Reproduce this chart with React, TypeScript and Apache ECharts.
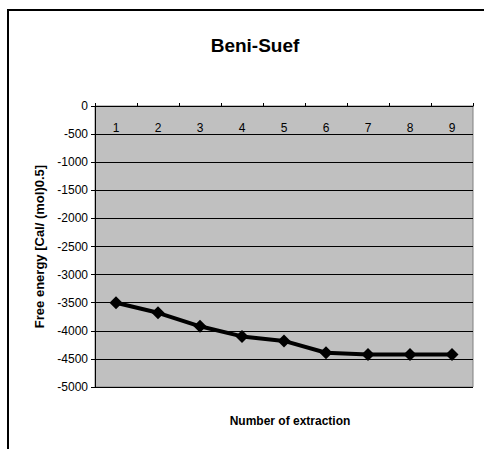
import React, { useEffect, useRef } from "react";
import * as echarts from "echarts";

const categories = ["1", "2", "3", "4", "5", "6", "7", "8", "9"];
const freeEnergy = [-3500, -3680, -3920, -4100, -4180, -4390, -4420, -4420, -4420];
const chartTitle = "Beni-Suef";
const xName = "Number of extraction";
const yName = "Free energy [Cal/ (mol)0.5]";

export default function App() {
  const ref = useRef<HTMLDivElement>(null);
  useEffect(() => {
    document.body.style.margin = "0";
    const chart = echarts.init(ref.current!, null, { renderer: "svg" });
    const font = "Liberation Sans, Arial, sans-serif";
    chart.setOption({
      animation: false,
      backgroundColor: "#ffffff",
      title: [
        {
          text: chartTitle,
          left: 250,
          top: 31,
          textAlign: "center",
          textStyle: { fontFamily: font, fontSize: 19, fontWeight: "bold", color: "#000000" },
        },
        {
          text: xName,
          left: 285,
          top: 410,
          textAlign: "center",
          textStyle: { fontFamily: font, fontSize: 12, fontWeight: "bold", color: "#000000" },
        },
      ],
      graphic: [
        {
          type: "rect",
          shape: { x: 8, y: 10, width: 500, height: 480 },
          style: { fill: "none", stroke: "#000", lineWidth: 2 },
          silent: true,
        },
      ],
      grid: {
        left: 95,
        top: 106,
        width: 378,
        height: 281,
        show: true,
        backgroundColor: "#c0c0c0",
        borderColor: "#808080",
        borderWidth: 1,
      },
      xAxis: {
        type: "category",
        position: "top",
        data: categories,
        boundaryGap: true,
        axisLine: { lineStyle: { color: "#000", width: 1 } },
        axisTick: { show: true, inside: false, length: 3, lineStyle: { color: "#000" } },
        axisLabel: {
          inside: true,
          margin: 16,
          fontFamily: font,
          fontSize: 12,
          color: "#000000",
        },
        splitLine: { show: false },
      },
      yAxis: {
        type: "value",
        min: -5000,
        max: 0,
        interval: 500,
        name: yName,
        nameLocation: "middle",
        nameGap: 46,
        nameTextStyle: { fontFamily: font, fontSize: 13, fontWeight: "bold", color: "#000000" },
        axisLine: { show: true, lineStyle: { color: "#000", width: 1 } },
        axisTick: { show: true, length: 4, lineStyle: { color: "#000" } },
        axisLabel: {
          margin: 7,
          fontFamily: font,
          fontSize: 12,
          color: "#000000",
          formatter: (v: number) => String(v),
        },
        splitLine: { show: true, lineStyle: { color: "#000", width: 1 } },
      },
      series: [
        {
          type: "line",
          data: freeEnergy,
          symbol: "diamond",
          symbolSize: 13,
          lineStyle: { color: "#000", width: 4 },
          itemStyle: { color: "#000" },
        },
      ],
    });
    return () => chart.dispose();
  }, []);
  return <div ref={ref} style={{ width: 484, height: 449 }} />;
}
